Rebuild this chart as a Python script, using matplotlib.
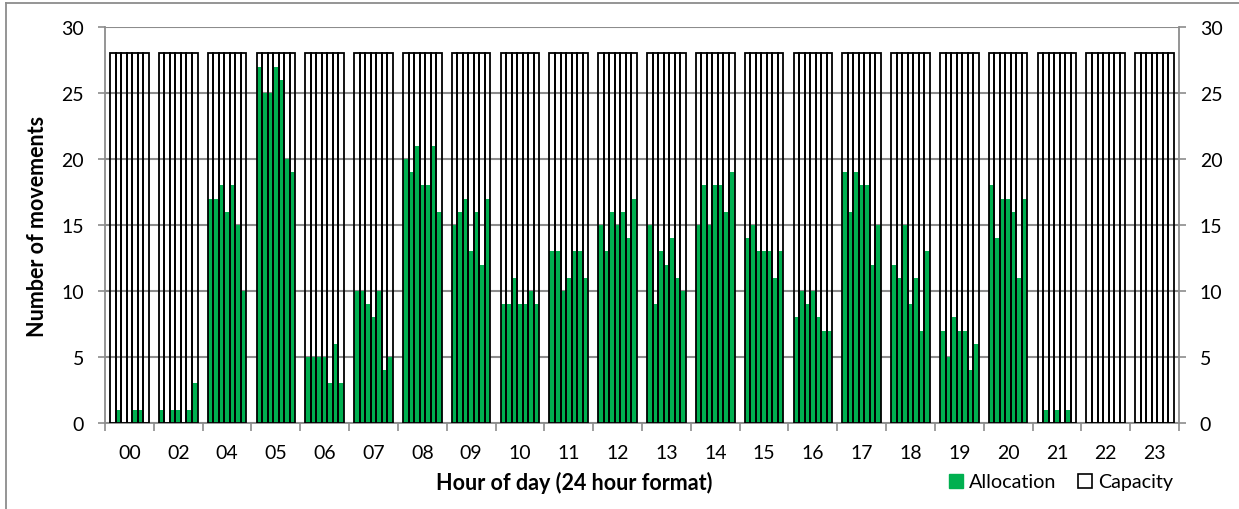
import numpy as np
import matplotlib
matplotlib.use('Agg')
import matplotlib.pyplot as plt
from matplotlib.lines import Line2D
from matplotlib.patches import Patch

plt.rcParams['font.family'] = ['Lato', 'DejaVu Sans']

# Hour groups shown on the axis (01 and 03 are absent in the source)
hours = ['00', '02', '04', '05', '06', '07', '08', '09', '10', '11', '12',
         '13', '14', '15', '16', '17', '18', '19', '20', '21', '22', '23']

# Capacity per bar (same for every bar)
capacity = 28

# Allocation, 7 bars per hour
alloc_00 = [0, 1, 0, 0, 1, 1, 0]
alloc_02 = [1, 0, 1, 1, 0, 1, 3]
alloc_04 = [17, 17, 18, 16, 18, 15, 10]
alloc_05 = [27, 25, 25, 27, 26, 20, 19]
alloc_06 = [5, 5, 5, 5, 3, 6, 3]
alloc_07 = [10, 10, 9, 8, 10, 4, 5]
alloc_08 = [20, 19, 21, 18, 18, 21, 16]
alloc_09 = [15, 16, 17, 13, 16, 12, 17]
alloc_10 = [9, 9, 11, 9, 9, 10, 9]
alloc_11 = [13, 13, 10, 11, 13, 13, 11]
alloc_12 = [15, 13, 16, 15, 16, 14, 17]
alloc_13 = [15, 9, 13, 12, 14, 11, 10]
alloc_14 = [15, 18, 15, 18, 18, 16, 19]
alloc_15 = [14, 15, 13, 13, 13, 11, 13]
alloc_16 = [8, 10, 9, 10, 8, 7, 7]
alloc_17 = [19, 16, 19, 18, 18, 12, 15]
alloc_18 = [12, 11, 15, 9, 11, 7, 13]
alloc_19 = [7, 5, 8, 7, 7, 4, 6]
alloc_20 = [18, 14, 17, 17, 16, 11, 17]
alloc_21 = [0, 1, 0, 1, 0, 1, 0]
alloc_22 = [0, 0, 0, 0, 0, 0, 0]
alloc_23 = [0, 0, 0, 0, 0, 0, 0]

allocation = [alloc_00, alloc_02, alloc_04, alloc_05, alloc_06, alloc_07,
              alloc_08, alloc_09, alloc_10, alloc_11, alloc_12, alloc_13,
              alloc_14, alloc_15, alloc_16, alloc_17, alloc_18, alloc_19,
              alloc_20, alloc_21, alloc_22, alloc_23]

GREEN = '#00B050'
GRID = '#8c8c8c'
FS = 14
FS_LABEL = 15.5

fig = plt.figure(figsize=(12.39, 5.10), dpi=100)
ax = fig.add_axes([105 / 1239, 86 / 510, 1074 / 1239, 396 / 510])

n_bars = 7
w = 0.79 / n_bars
for i, vals in enumerate(allocation):
    xs = i + (np.arange(n_bars) - (n_bars - 1) / 2) * w
    ax.bar(xs, vals, width=w, color=GREEN, linewidth=0, zorder=2)
    ax.bar(xs, [capacity] * n_bars, width=w, facecolor='none',
           edgecolor='black', linewidth=1.3, zorder=3)

ax.set_xlim(-0.5, len(hours) - 0.5)
ax.set_ylim(0, 30)
ax.set_yticks(range(0, 31, 5))
ax.yaxis.grid(True, color=GRID, linewidth=1.5, zorder=0)
ax.set_axisbelow(True)

# category boundaries as ticks, labels centred on the groups
ax.set_xticks(np.arange(-0.5, len(hours), 1))
ax.set_xticklabels([])
ax.set_xticks(np.arange(len(hours)), minor=True)
ax.set_xticklabels(hours, minor=True, fontsize=FS)
ax.tick_params(axis='x', which='major', length=6, width=1.2, color=GRID)
ax.tick_params(axis='x', which='minor', length=0, pad=15)
ax.tick_params(axis='y', length=5, width=1.2, color=GRID, labelsize=FS, pad=10)

for side in ['left', 'right', 'bottom']:
    ax.spines[side].set_color(GRID)
    ax.spines[side].set_linewidth(1.3)
ax.spines['top'].set_visible(False)

ax2 = ax.twinx()
ax2.set_ylim(0, 30)
ax2.set_yticks(range(0, 31, 5))
ax2.tick_params(axis='y', length=5, width=1.2, color=GRID, labelsize=FS, pad=10)
for s in ax2.spines.values():
    s.set_visible(False)

ax.set_ylabel('Number of movements', fontsize=FS_LABEL, fontweight='bold', labelpad=10)
fig.text(574 / 1239, 1 - 483 / 510, 'Hour of day (24 hour format)',
         fontsize=FS_LABEL, fontweight='bold', ha='center', va='center')

handles = [Patch(facecolor=GREEN, edgecolor=GREEN, label='Allocation'),
           Patch(facecolor='white', edgecolor='black', linewidth=1.2, label='Capacity')]
fig.legend(handles=handles, loc='center', bbox_to_anchor=(1061 / 1239, 1 - 483 / 510),
           ncol=2, frameon=False, fontsize=14.2, handlelength=0.7, handleheight=0.7,
           handletextpad=0.3, columnspacing=1.1)

# outer chart border (left and top visible in the source crop)
fig.add_artist(Line2D([6 / 1239, 6 / 1239], [0, 1 - 4 / 510], color=GRID, lw=1.3))
fig.add_artist(Line2D([6 / 1239, 1], [1 - 4 / 510, 1 - 4 / 510], color=GRID, lw=1.3))

fig.savefig('out.png', dpi=100)
